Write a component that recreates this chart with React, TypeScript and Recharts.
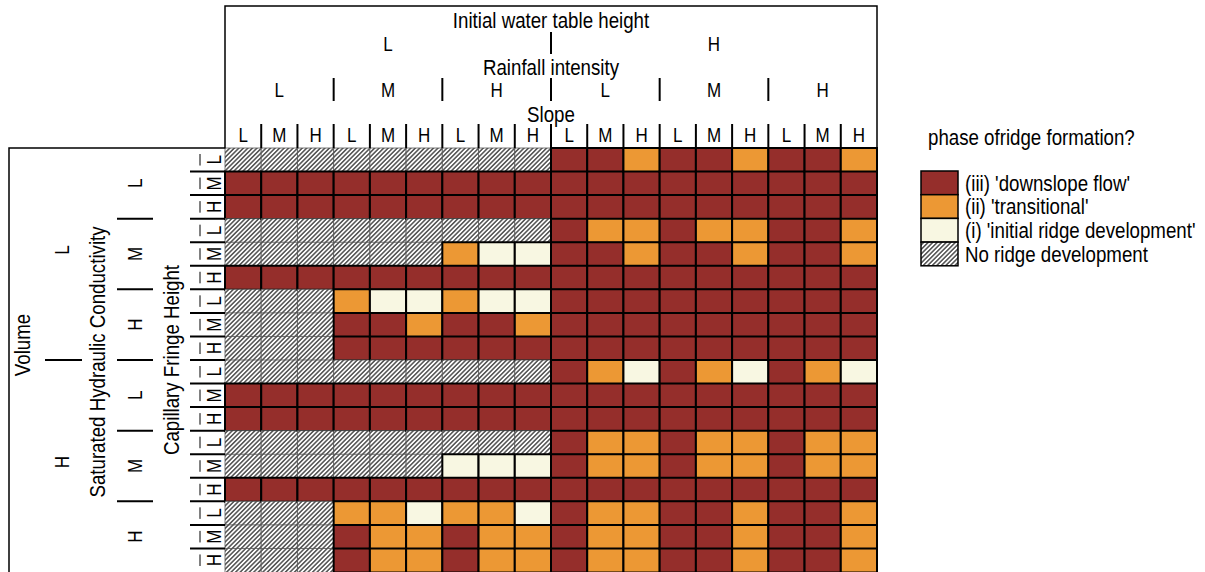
import React from "react";
import { BarChart, Bar, XAxis, YAxis, Cell, Legend } from "recharts";

const slopeLevels = ["L", "M", "H"];
const rainfallLevels = ["L", "M", "H"];
const waterTableLevels = ["L", "H"];
const volumeLevels = ["L", "H"];
const conductivityLevels = ["L", "M", "H"];
const fringeLevels = ["L", "M", "H"];

// 0 = no ridge, 1 = initial, 2 = transitional, 3 = downslope flow
const phaseLabels = ["No ridge development", "(i) 'initial ridge development'", "(ii) 'transitional'", "(iii) 'downslope flow'"];
const phaseColors = ["url(#hatch)", "#f8f7e2", "#ec9834", "#952e2b"];
const legendOrder = [3, 2, 1, 0];

const volumeLowPhases = [
  [0, 0, 0, 0, 0, 0, 0, 0, 0, 3, 3, 2, 3, 3, 2, 3, 3, 2],
  [3, 3, 3, 3, 3, 3, 3, 3, 3, 3, 3, 3, 3, 3, 3, 3, 3, 3],
  [3, 3, 3, 3, 3, 3, 3, 3, 3, 3, 3, 3, 3, 3, 3, 3, 3, 3],
  [0, 0, 0, 0, 0, 0, 0, 0, 0, 3, 2, 2, 3, 2, 2, 3, 3, 2],
  [0, 0, 0, 0, 0, 0, 2, 1, 1, 3, 3, 2, 3, 3, 2, 3, 3, 2],
  [3, 3, 3, 3, 3, 3, 3, 3, 3, 3, 3, 3, 3, 3, 3, 3, 3, 3],
  [0, 0, 0, 2, 1, 1, 2, 1, 1, 3, 3, 3, 3, 3, 3, 3, 3, 3],
  [0, 0, 0, 3, 3, 2, 3, 3, 2, 3, 3, 3, 3, 3, 3, 3, 3, 3],
  [0, 0, 0, 3, 3, 3, 3, 3, 3, 3, 3, 3, 3, 3, 3, 3, 3, 3],
];

const volumeHighPhases = [
  [0, 0, 0, 0, 0, 0, 0, 0, 0, 3, 2, 1, 3, 2, 1, 3, 2, 1],
  [3, 3, 3, 3, 3, 3, 3, 3, 3, 3, 3, 3, 3, 3, 3, 3, 3, 3],
  [3, 3, 3, 3, 3, 3, 3, 3, 3, 3, 3, 3, 3, 3, 3, 3, 3, 3],
  [0, 0, 0, 0, 0, 0, 0, 0, 0, 3, 2, 2, 3, 2, 2, 3, 2, 2],
  [0, 0, 0, 0, 0, 0, 1, 1, 1, 3, 2, 2, 3, 2, 2, 3, 2, 2],
  [3, 3, 3, 3, 3, 3, 3, 3, 3, 3, 3, 3, 3, 3, 3, 3, 3, 3],
  [0, 0, 0, 2, 2, 1, 2, 2, 1, 3, 2, 2, 3, 3, 2, 3, 3, 2],
  [0, 0, 0, 3, 2, 2, 3, 2, 2, 3, 2, 2, 3, 3, 2, 3, 3, 2],
  [0, 0, 0, 3, 2, 2, 3, 2, 2, 3, 2, 2, 3, 3, 2, 3, 3, 2],
];

const W = 1205;
const H = 572;
const PLOT = { left: 225, right: 877, top: 148, bottom: 572 };
const FONT = "'Liberation Sans', Arial, sans-serif";
const FS = 22;
const LETTER = 20;
const SX = 0.85; // the source font is a narrow sans

const columnKeys = waterTableLevels.flatMap((w) =>
  rainfallLevels.flatMap((r) => slopeLevels.map((s) => `w${w}_r${r}_s${s}`))
);
const rowKeys = volumeLevels.flatMap((v) =>
  conductivityLevels.flatMap((k) => fringeLevels.map((f) => `v${v}_k${k}_f${f}`))
);
const phaseGrid = [...volumeLowPhases, ...volumeHighPhases];

// every cell is one unit wide, stacked across the row
const data = rowKeys.map((key) => {
  const row: Record<string, string | number> = { key };
  columnKeys.forEach((c) => (row[c] = 1));
  return row;
});

const colW = (PLOT.right - PLOT.left) / columnKeys.length;
const rowH = (PLOT.bottom - PLOT.top) / rowKeys.length;

// narrow text centred (vertically on cap height) at x, y
function NText({ x, y, children, size = FS, rotate = false, anchor = "middle" }: { x: number; y: number; children: React.ReactNode; size?: number; rotate?: boolean; anchor?: string }) {
  const t = `translate(${x} ${y})${rotate ? " rotate(-90)" : ""} scale(${SX} 1)`;
  return (
    <text x={0} y={0} dy={size * 0.36} textAnchor={anchor as any} fontSize={size} fontFamily={FONT} fill="#000" transform={t}>
      {children}
    </text>
  );
}

function SlopeTick(props: any) {
  const { x, payload } = props;
  return <NText x={x} y={135} size={LETTER}>{slopeLevels[Math.floor(payload.value) % 3]}</NText>;
}

function FringeTick(props: any) {
  const { y, payload } = props;
  const letter = String(payload.value).split("_f")[1];
  return <NText x={214} y={y} size={LETTER} rotate>{letter}</NText>;
}

function PhaseLegend() {
  const sw = 23.7;
  return (
    <svg width={305} height={160} style={{ display: "block", overflow: "visible" }}>
      <NText x={28} y={18} anchor="start">phase ofridge formation?</NText>
      {legendOrder.map((p, i) => (
        <g key={p}>
          <rect x={21} y={52 + i * sw} width={37} height={sw} fill={phaseColors[p]} stroke="#000" strokeWidth={1.5} />
          <NText x={65} y={52 + i * sw + sw / 2} anchor="start">{phaseLabels[p]}</NText>
        </g>
      ))}
    </svg>
  );
}

function Frame() {
  const midX = (PLOT.left + PLOT.right) / 2;
  const midY = (PLOT.top + PLOT.bottom) / 2;
  return (
    <svg width={W} height={H} style={{ position: "absolute", left: 0, top: 0, pointerEvents: "none" }}>
      <defs>
        <pattern id="hatch" patternUnits="userSpaceOnUse" width={3.2} height={3.2} patternTransform="rotate(45)">
          <rect width={3.2} height={3.2} fill="#fff" />
          <line x1={1.6} y1={0} x2={1.6} y2={3.2} stroke="#222" strokeWidth={1.2} />
        </pattern>
      </defs>
      {/* header box */}
      <polyline points={`${PLOT.left},${PLOT.top} ${PLOT.left},6 ${PLOT.right},6 ${PLOT.right},${PLOT.top}`} fill="none" stroke="#000" strokeWidth={1.5} />
      <NText x={midX} y={20}>Initial water table height</NText>
      {waterTableLevels.map((w, i) => (
        <NText key={w} x={PLOT.left + (i * 9 + 4.5) * colW} y={44} size={LETTER}>{w}</NText>
      ))}
      <line x1={midX} x2={midX} y1={32} y2={54} stroke="#000" strokeWidth={2} />
      <NText x={midX} y={67}>Rainfall intensity</NText>
      {waterTableLevels.flatMap((w, i) =>
        rainfallLevels.map((r, j) => (
          <NText key={w + r} x={PLOT.left + ((i * 3 + j) * 3 + 1.5) * colW} y={90} size={LETTER}>{r}</NText>
        ))
      )}
      {[1, 2, 3, 4, 5].map((g) => (
        <line key={g} x1={PLOT.left + g * 3 * colW} x2={PLOT.left + g * 3 * colW} y1={78} y2={101} stroke="#000" strokeWidth={2} />
      ))}
      <NText x={midX} y={114}>Slope</NText>
      {columnKeys.slice(1).map((c, k) => (
        <line key={c} x1={PLOT.left + (k + 1) * colW} x2={PLOT.left + (k + 1) * colW} y1={124} y2={PLOT.top} stroke="#000" strokeWidth={2} />
      ))}

      {/* left box */}
      <polyline points={`${PLOT.left},${PLOT.top} 9,${PLOT.top} 9,${H}`} fill="none" stroke="#000" strokeWidth={1.5} />
      <NText x={22} y={345} rotate>Volume</NText>
      {volumeLevels.map((v, i) => (
        <NText key={v} x={62} y={PLOT.top + (i * 9 + 4.5) * rowH - 4} size={LETTER} rotate>{v}</NText>
      ))}
      <line x1={45} x2={82} y1={midY} y2={midY} stroke="#000" strokeWidth={2} />
      <NText x={97} y={362} rotate>Saturated Hydraulic Conductivity</NText>
      {volumeLevels.flatMap((v, i) =>
        conductivityLevels.map((k, j) => (
          <NText key={v + k} x={135} y={PLOT.top + ((i * 3 + j) * 3 + 1.5) * rowH} size={LETTER} rotate>{k}</NText>
        ))
      )}
      {[1, 2, 3, 4, 5].map((g) => (
        <line key={g} x1={117} x2={153} y1={PLOT.top + g * 3 * rowH} y2={PLOT.top + g * 3 * rowH} stroke="#000" strokeWidth={2} />
      ))}
      <NText x={171} y={360} rotate>Capillary Fringe Height</NText>
      {rowKeys.slice(1).map((r, k) => (
        <line key={r} x1={190} x2={PLOT.left} y1={PLOT.top + (k + 1) * rowH} y2={PLOT.top + (k + 1) * rowH} stroke="#000" strokeWidth={2} />
      ))}
      {rowKeys.map((r, k) => (
        <line key={r} x1={200} x2={200} y1={PLOT.top + k * rowH + 6} y2={PLOT.top + (k + 1) * rowH - 6} stroke="#000" strokeWidth={1} />
      ))}
    </svg>
  );
}

export default function App() {
  return (
    <div style={{ position: "absolute", left: 0, top: 0, width: W, height: H, overflow: "hidden", background: "#fff" }}>
      <BarChart
        layout="vertical"
        width={W}
        height={H}
        data={data}
        barCategoryGap={0}
        barGap={0}
        margin={{ top: PLOT.top - 24, right: W - PLOT.right, bottom: H - PLOT.bottom, left: PLOT.left - 35 }}
      >
        <XAxis
          type="number"
          orientation="top"
          domain={[0, columnKeys.length]}
          ticks={columnKeys.map((_, i) => i + 0.5)}
          interval={0}
          height={24}
          axisLine={false}
          tickLine={false}
          tick={<SlopeTick />}
        />
        <YAxis type="category" dataKey="key" width={35} interval={0} axisLine={false} tickLine={false} tick={<FringeTick />} />
        <Legend
          layout="horizontal"
          verticalAlign="middle"
          align="center"
          wrapperStyle={{ position: "absolute", left: 900, top: 119, width: 305, height: 160 }}
          content={() => <PhaseLegend />}
        />
        {columnKeys.map((c, ci) => (
          <Bar key={c} dataKey={c} stackId="grid" isAnimationActive={false}>
            {phaseGrid.map((row, ri) => (
              <Cell
                key={ri}
                fill={phaseColors[row[ci]]}
                stroke={row[ci] === 0 ? "#555" : "#000"}
                strokeWidth={row[ci] === 0 ? 0.8 : 2}
              />
            ))}
          </Bar>
        ))}
      </BarChart>
      <Frame />
    </div>
  );
}
